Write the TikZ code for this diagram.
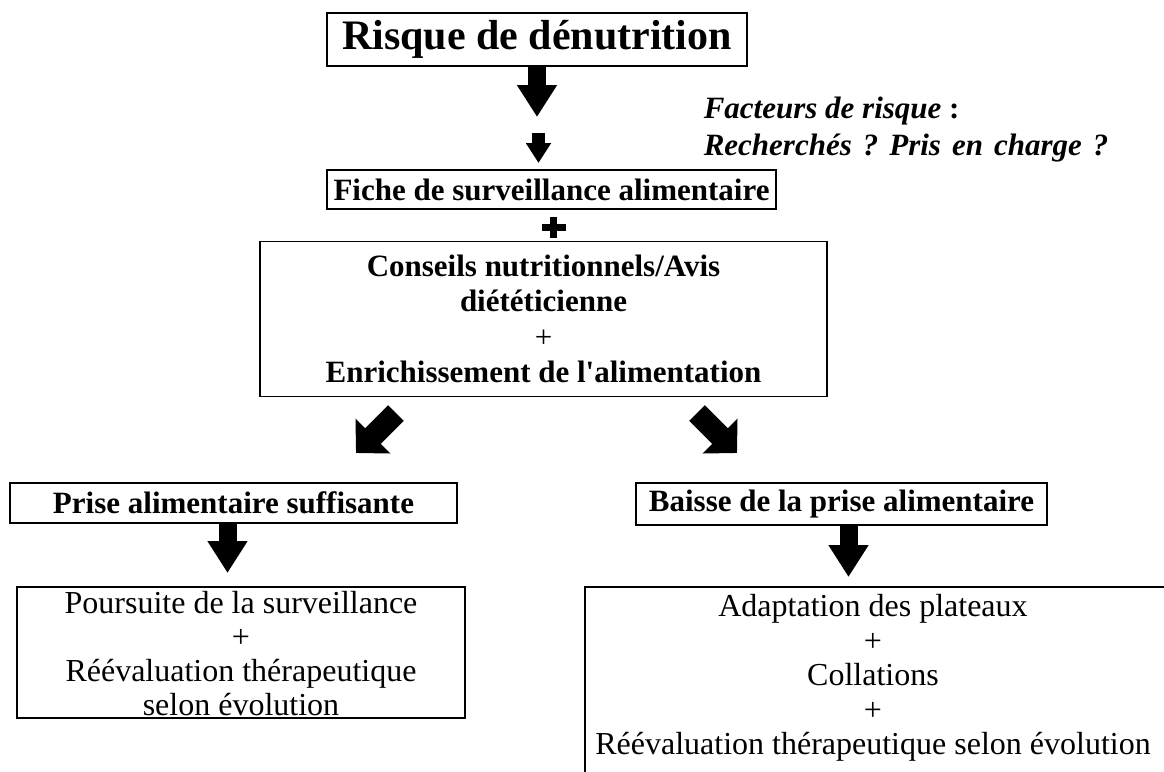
\documentclass[tikz,border=0pt]{standalone}
\usepackage{fontspec}
\setmainfont{Liberation Serif}
\usetikzlibrary{positioning, arrows.meta}

\begin{document}
\frenchspacing
\begin{tikzpicture}[x=1pt, y=-1pt, line width=1.5pt,
        frame/.style={draw=black, inner sep=0pt},
        txtbox/.style={inner sep=0pt, align=center, font=\fontsize{32}{34.5}\selectfont},
        boldbox/.style={frame, align=center, font=\fontsize{31}{35.3}\selectfont\bfseries},
        note/.style={anchor=west, inner sep=0pt, font=\fontsize{31}{34.6}\selectfont\bfseries},
        bigarrow/.style={line width=18pt, -{Triangle[length=32pt, width=38pt]}},
        smallarrow/.style={line width=13pt, -{Triangle[length=20pt, width=24pt]}},
        diagarrow/.style={line width=22pt, -{Triangle[length=24pt, width=48pt]}}]

        \useasboundingbox (0,0) rectangle (1164,771);

        % Top
        \node[boldbox, font=\fontsize{42}{48}\selectfont\bfseries,
              minimum width=420pt, minimum height=53pt] (risque) at (537,39.5) {Risque de dénutrition};

        \node[note] (facteurs) at (703,111) {\textit{Facteurs de risque} :};
        \node[note] (recherche) at (703,148) {\spaceskip=11pt\textit{Recherchés ? Pris en charge ?}};

        \coordinate (a1tip) at (537,117);
        \coordinate (a2top) at (538.5,133);
        \coordinate (a2tip) at (538.5,163);

        \draw[bigarrow] (risque.south) -- (a1tip);
        \draw[smallarrow] (a2top) -- (a2tip);

        \node[boldbox, minimum width=449pt, minimum height=39pt] (fiche) at (551.5,189.5) {Fiche de surveillance alimentaire};

        % thick plus
        \fill[black] (550,217) rectangle (557,238);
        \fill[black] (542,224) rectangle (566,231);

        \node[boldbox, minimum width=567pt, minimum height=155pt] (conseils) at (543.5,319)
        {Conseils nutritionnels/Avis\\ diététicienne\\ {\mdseries +}\\ Enrichissement de l\textquotesingle alimentation};

        % Split
        \coordinate (dltail) at (396,413);
        \coordinate (dltip) at (356,453);
        \coordinate (drtail) at (697,413);
        \coordinate (drtip) at (737,453);

        \draw[diagarrow] (dltail) -- (dltip);
        \draw[diagarrow] (drtail) -- (drtip);

        % Left
        \node[boldbox, minimum width=447pt, minimum height=40pt] (prise) at (233.5,503) {Prise alimentaire suffisante};

        \coordinate (a3top) at (227.5,523);
        \coordinate (a3tip) at (227.5,573);
        \draw[bigarrow] (a3top) -- (a3tip);

        \node[frame, minimum width=448pt, minimum height=131pt] (poursuite) at (241,652.5) {};
        \node[txtbox, font=\fontsize{32}{34}\selectfont] (poursuitetxt) at (241,653.5)
        {Poursuite de la surveillance\\ +\\ Réévaluation thérapeutique\\ selon évolution};

        % Right
        \node[boldbox, minimum width=411pt, minimum height=42pt] (baisse) at (841.5,504) {Baisse de la prise alimentaire};

        \coordinate (a4top) at (848.5,526);
        \coordinate (a4tip) at (848.5,577);
        \draw[bigarrow] (a4top) -- (a4tip);

        \node[frame, minimum width=600pt, minimum height=220pt] (adaptation) at (885,697) {};
        \node[txtbox] (adaptationtxt) at (873,678)
        {Adaptation des plateaux\\ +\\ Collations\\ +\\ Réévaluation thérapeutique selon évolution};
\end{tikzpicture}
\end{document}
